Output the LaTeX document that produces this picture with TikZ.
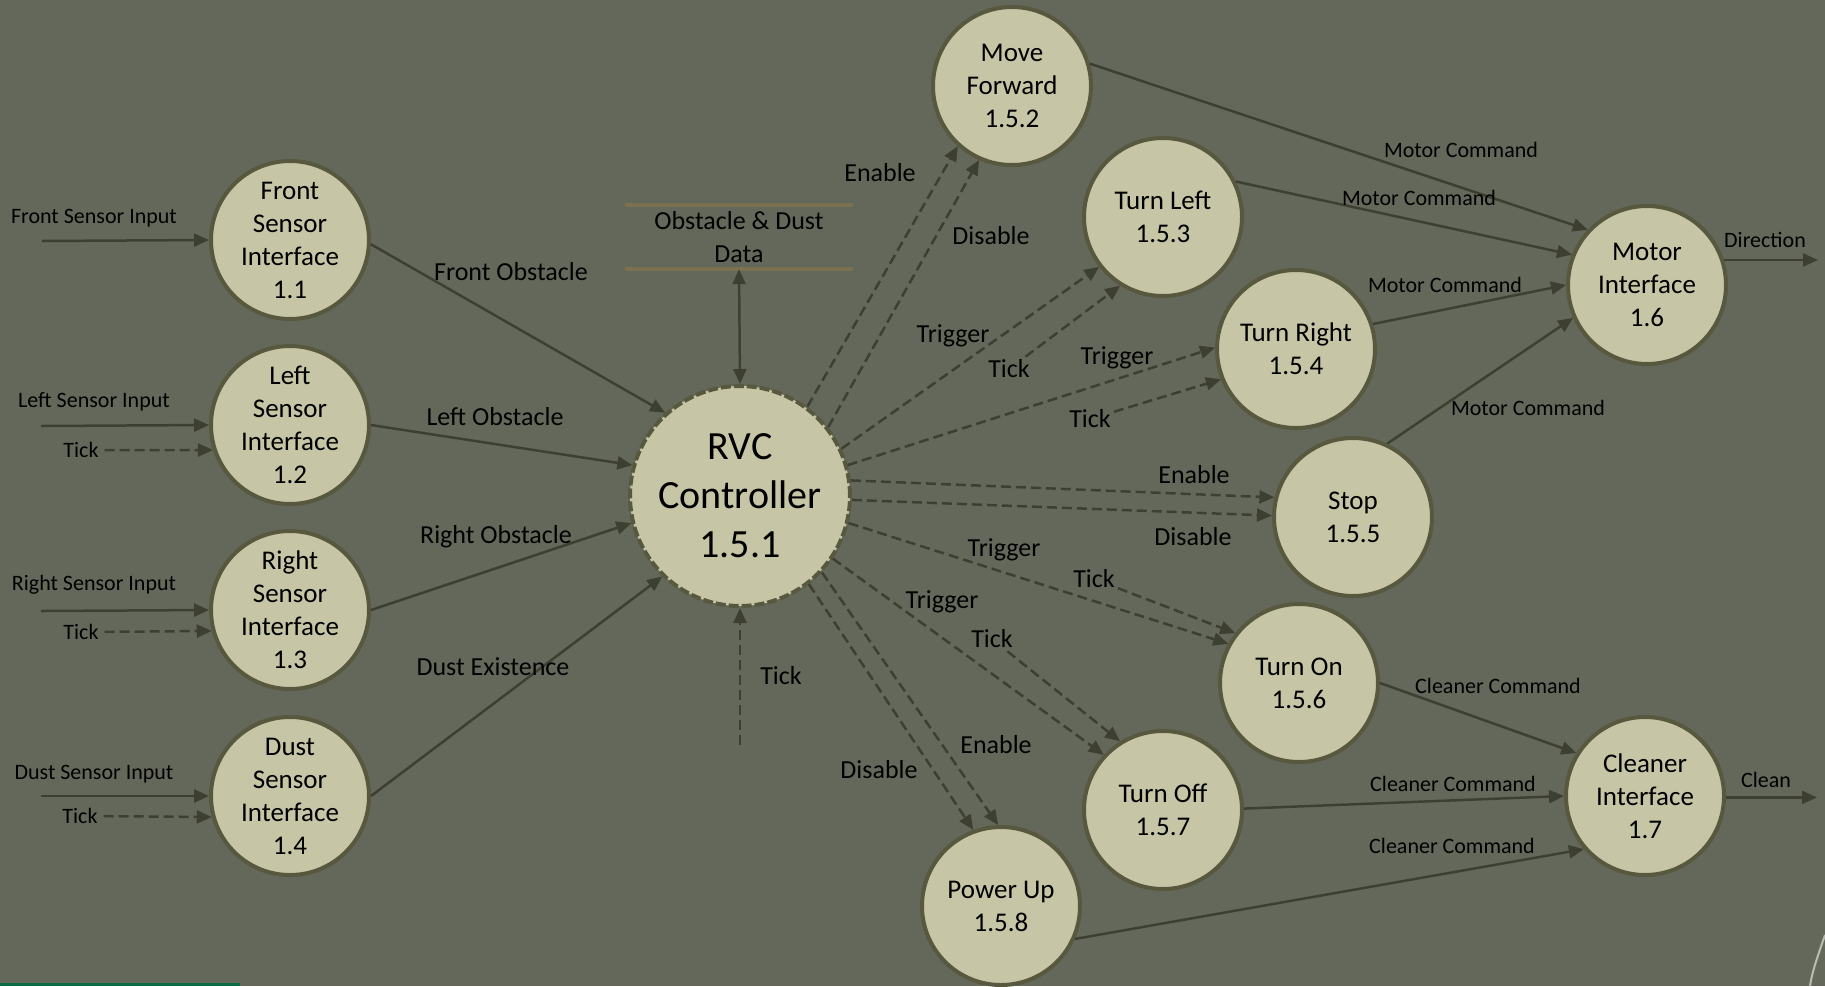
\documentclass[tikz,border=0pt]{standalone}
\usepackage{fontspec}
\setmainfont{Carlito}
\usetikzlibrary{arrows.meta}
\definecolor{bgcol}{HTML}{64685A}
\definecolor{bubble}{HTML}{C6C6A6}
\definecolor{rim}{HTML}{58583F}
\definecolor{flow}{HTML}{3D3F31}
\definecolor{storeline}{HTML}{7A7150}
\definecolor{strip}{HTML}{0B6B45}
\begin{document}
\begin{tikzpicture}[x=1pt,y=-1pt,
  >={Triangle[length=15pt,width=13pt]},
  proc/.style={circle, fill=bubble, draw=rim, line width=4pt, minimum size=158pt,
    inner sep=0pt, align=center, font=\fontsize{27}{33}\selectfont},
  ctrl/.style={proc, minimum size=220pt, dash pattern=on 10pt off 3pt,
    font=\fontsize{40}{49}\selectfont},
  lbl/.style={inner sep=1pt, font=\fontsize{26}{33}\selectfont},
  sml/.style={inner sep=2pt, font=\fontsize{22}{27}\selectfont},
  ticksrc/.style={inner xsep=6pt},
  flowline/.style={draw=flow, line width=2.5pt, ->},
  ctlflow/.style={flowline, dash pattern=on 10pt off 5pt},
]
% canvas
\fill[bgcol] (0,0) rectangle (1825,986);
\useasboundingbox (0,0) rectangle (1825,986);
\fill[strip] (0,983) rectangle (240,986);
\draw[white!55!bgcol, line width=2pt] (1825,935) .. controls (1818,955) and (1812,972) .. (1810,986);

% sensor interfaces
\node[proc] (fs) at (290,240) {Front\\Sensor\\Interface\\1.1};
\node[proc] (ls) at (290,425) {Left\\Sensor\\Interface\\1.2};
\node[proc] (rs) at (290,610) {Right\\Sensor\\Interface\\1.3};
\node[proc] (dsn) at (290,796) {Dust\\Sensor\\Interface\\1.4};

% controller and its sub-processes
\node[ctrl] (rvc) at (740,496) {RVC\\Controller\\1.5.1};
\node[proc] (mf) at (1012,86) {Move\\Forward\\1.5.2};
\node[proc] (tl) at (1163,217) {Turn Left\\1.5.3};
\node[proc] (tr) at (1296,349) {Turn Right\\1.5.4};
\node[proc] (st) at (1353,517) {Stop\\1.5.5};
\node[proc] (ton) at (1299,683) {Turn On\\1.5.6};
\node[proc] (toff) at (1163,810) {Turn Off\\1.5.7};
\node[proc] (pu) at (1001,906) {Power Up\\1.5.8};

% actuator interfaces
\node[proc] (mi) at (1647,285) {Motor\\Interface\\1.6};
\node[proc] (ci) at (1645,796) {Cleaner\\Interface\\1.7};

% data store
\node[lbl, minimum width=228pt, minimum height=64pt, align=center] (store) at (739,237) {Obstacle \& Dust\\Data};
\draw[storeline, line width=4pt] (store.north west) -- (store.north east)
  (store.south west) -- (store.south east);
\draw[flowline, <->] (store.south) -- (rvc.north);

% external inputs
\coordinate (fsin) at (42,241);
\coordinate (lsin) at (41,426);
\coordinate (rsin) at (41,611);
\coordinate (dsin) at (41,796);
\node[sml] at (94,218) {Front Sensor Input};
\node[sml] at (94,402) {Left Sensor Input};
\node[sml] at (94,585) {Right Sensor Input};
\node[sml] at (94,774) {Dust Sensor Input};
\draw[flowline] (fsin) -- (fs.180);
\draw[flowline] (lsin) -- (ls.180);
\draw[flowline] (rsin) -- (rs.180);
\draw[flowline] (dsin) -- (dsn.180);
\node[sml, ticksrc] (tk1) at (81,450) {Tick};
\node[sml, ticksrc] (tk2) at (81,632) {Tick};
\node[sml, ticksrc] (tk3) at (80,816) {Tick};
\draw[ctlflow] (tk1) -- (ls.198);
\draw[ctlflow] (tk2) -- (rs.195);
\draw[ctlflow] (tk3) -- (dsn.195);

% sensor data into the controller
\draw[flowline] (fs.-3) -- (rvc.132);
\draw[flowline] (ls.0) -- (rvc.164);
\draw[flowline] (rs.0) -- (rvc.194);
\draw[flowline] (dsn.0) -- (rvc.226);
\node[lbl] at (511,272) {Front Obstacle};
\node[lbl] at (495,417) {Left Obstacle};
\node[lbl] at (496,537) {Right Obstacle};
\node[lbl] at (493,667) {Dust Existence};

% clock into the controller
\coordinate (rvctick) at (740,745);
\draw[ctlflow] (rvctick) -- (rvc.270);
\node[lbl] at (781,676) {Tick};

% control flows out of the controller
\draw[ctlflow] (rvc.53) -- (mf.228);
\draw[ctlflow] (rvc.38) -- (mf.246);
\node[lbl] at (880,173) {Enable};
\node[lbl] at (991,236) {Disable};

\draw[ctlflow] (rvc.25) -- (tl.218);
\node[lbl] at (953,336) {Trigger};
\node[lbl, inner sep=3pt] (tk4) at (1009,369) {Tick};
\draw[ctlflow] (tk4) -- (tl.238);

\draw[ctlflow] (rvc.16) -- (tr.179);
\node[lbl] at (1117,358) {Trigger};
\node[lbl, inner sep=3pt] (tk5) at (1090,419) {Tick};
\draw[ctlflow] (tk5) -- (tr.202);

\draw[ctlflow] (rvc.8) -- (st.166);
\draw[ctlflow] (rvc.-2) -- (st.179);
\node[lbl] at (1194,475) {Enable};
\node[lbl] at (1193,537) {Disable};

\draw[ctlflow] (rvc.-14) -- (ton.151);
\node[lbl] at (1004,550) {Trigger};
\node[lbl, inner sep=3pt] (tk6) at (1094,579) {Tick};
\draw[ctlflow] (tk6) -- (ton.142);

\draw[ctlflow] (rvc.-34) -- (toff.137);
\node[lbl] at (942,602) {Trigger};
\node[lbl, inner sep=3pt] (tk7) at (992,639) {Tick};
\draw[ctlflow] (tk7) -- (toff.122);

\draw[ctlflow] (rvc.-52) -- (pu.110);
\draw[ctlflow] (rvc.-43) -- (pu.92);
\node[lbl] at (879,770) {Disable};
\node[lbl] at (996,745) {Enable};

% motor commands
\draw[flowline] (mf.16) -- (mi.137);
\draw[flowline] (tl.26) -- (mi.158);
\draw[flowline] (tr.18) -- (mi.180);
\draw[flowline] (st.65) -- (mi.204);
\node[sml] at (1461,150) {Motor Command};
\node[sml] at (1419,198) {Motor Command};
\node[sml] at (1445,285) {Motor Command};
\node[sml] at (1528,408) {Motor Command};
\coordinate (dirout) at (1818,260);
\draw[flowline] (mi.18) -- (mi.18 -| dirout);
\node[sml] at (1765,240) {Direction};

% cleaner commands
\draw[flowline] (ton.0) -- (ci.148);
\draw[flowline] (toff.1) -- (ci.180);
\draw[flowline] (pu.-24) -- (ci.221);
\node[sml] at (1498,686) {Cleaner Command};
\node[sml] at (1453,784) {Cleaner Command};
\node[sml] at (1452,846) {Cleaner Command};
\coordinate (cleanout) at (1817,798);
\draw[flowline] (ci.-1) -- (ci.-1 -| cleanout);
\node[sml] at (1766,780) {Clean};
\end{tikzpicture}
\end{document}
